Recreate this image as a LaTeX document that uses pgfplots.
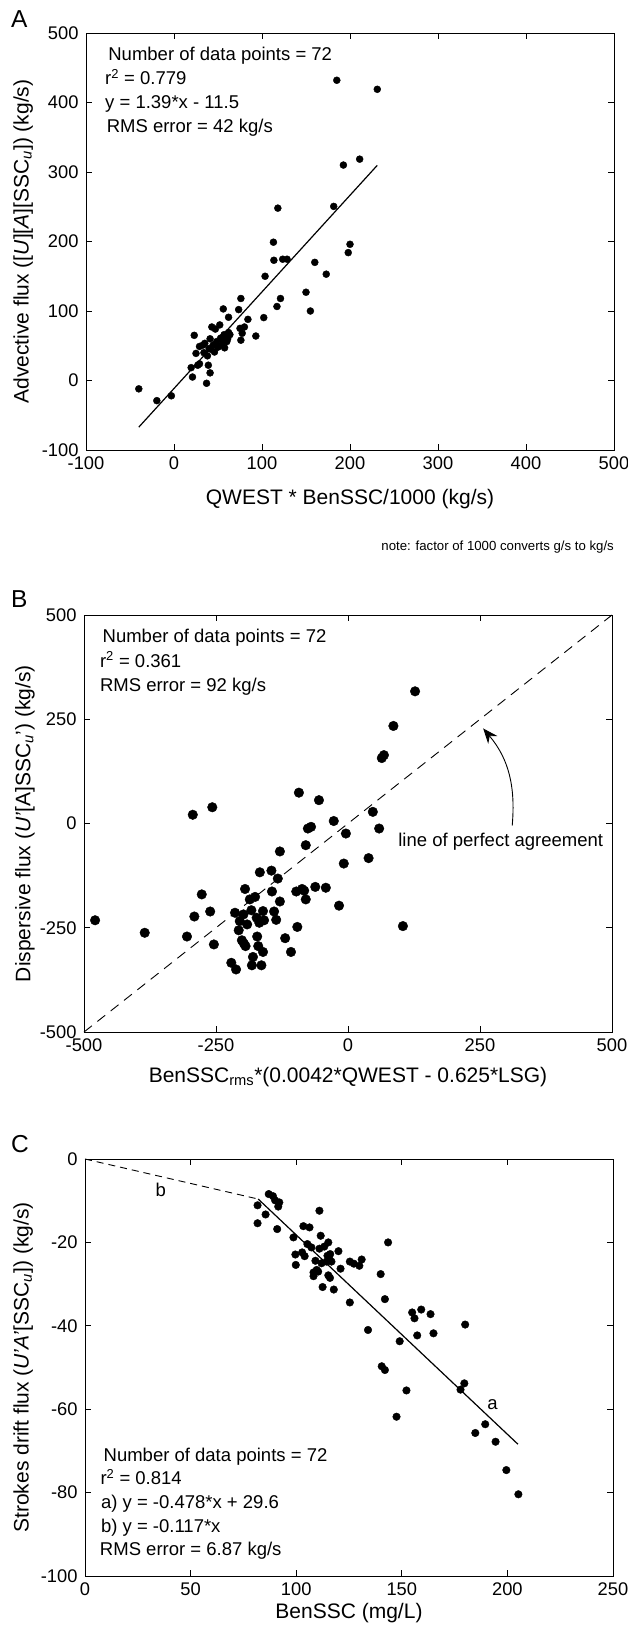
\documentclass[border=0pt]{standalone}
\usepackage{pgfplots}
\pgfplotsset{compat=1.18}
\usepackage{pgfplotstable}
\usetikzlibrary{arrows.meta}
\usepackage{fontspec}
\setmainfont{Liberation Sans}

\newcommand{\tickfont}{\fontsize{18.3pt}{21pt}\selectfont}
\newcommand{\labfont}{\fontsize{21pt}{24pt}\selectfont}
\newcommand{\annfont}{\fontsize{18.5pt}{22pt}\selectfont}
\newcommand{\letfont}{\fontsize{24.5pt}{28pt}\selectfont}
\newcommand{\notefont}{\fontsize{13.2pt}{15pt}\selectfont}

\pgfplotstableread{
x y
-40 -12
-19.5 -29
-3 -22
21 5
19.5 18.5
23 65
25 39
27 22
29 24
29 49
33 51
35 53.5
37 -4
39 22
41 11
38 35.5
40 46
43 77
41 60
44.5 51
47 74
48.5 56
46 41
50 48
52 80
53 61
54.5 51
56 103
57 66
57.5 47
60 56
62 91
62 69
63.5 66
61 60
73.5 102
76 118
75 75
76 58
77.5 68
80 77
84 88
93 64
102 90.5
103.5 150
113 199
113.5 173
117 106.5
118 248
121 118
123.5 174.5
128.5 174.5
150 127
155 100
160 170
173 153
181.5 250.5
185 432
192.5 310
198 184
200 196
211 318.5
231 419
42 45
55 58
34 40
}\dataA

\pgfplotstableread{
x y
-479 -232
-385 -262
-305 -271
-294 21
-291 -223
-277 -170
-261 -211
-257 39
-254 -290
-221 -334
-212 -350
-214 -214
-207 -256
-205 -234
-201 -280
-197 -288
-194 -294
-195 -157
-198 -218
-191 -242
-186 -182
-183 -208
-180 -320
-182 -340
-176 -176
-173 -226
-172 -271
-170 -294
-167 -117
-168 -238
-164 -340
-161 -308
-161 -210
-159 -232
-145 -113
-144 -163
-140 -211
-136 -231
-133 -132
-129 -67
-129 -187
-119 -275
-108 -308
-98 -163
-96 -248
-93 74
-87 -157
-83 -161
-80 -182
-80 -52
-76 -12
-70 -8
-62 -152
-55 56
-42 -154
-27 6
-17 -197
-8 -96
-4 -24
39 -83
47 28
59 -12
64 157
68 164
86 234
104 -246
127 317
}\dataB

\pgfplotstableread{
x y
81.7 -11.1
81.7 -15.4
85.5 -13.3
87 -8.4
89 -8.9
90 -9.9
91 -16.8
92 -10.4
91.5 -11.4
98.7 -18.8
99.6 -22.9
99.8 -25.4
102.8 -22.4
103.4 -16.1
104 -23.3
105.3 -20.4
106.3 -16.4
107.2 -21.2
108.2 -27.2
108.2 -28.1
109.1 -24.4
109.7 -26.6
110.4 -27
111 -12.4
111 -21.5
111.6 -18.4
112 -25
112.5 -30.7
113.3 -21
114.4 -24.6
114.8 -23.2
115.2 -20
115.2 -27.9
115.8 -24.1
116.1 -22.8
116.7 -24.6
116 -28.5
117.8 -31.3
120 -22.1
121 -26.3
125.4 -34.4
125.4 -24.6
127.3 -25.1
129.9 -25.6
131 -24.1
134 -41
140 -27.6
140.5 -49.7
142 -50.6
142 -33.6
143.5 -20
147.5 -61.8
149 -43.7
152.2 -55.5
154.9 -36.8
156 -38.2
157.3 -42.3
159.2 -36.1
163.6 -37.2
165 -41.8
177.8 -55.3
180 -39.7
179.6 -53.8
184.8 -65.7
189.5 -63.6
194.4 -67.8
199.5 -74.6
205.2 -80.4
}\dataC

\pgfplotsset{
  panel/.style={
    scale only axis, width=528pt, height=417pt,
    axis line style={line width=0.8pt},
    every tick/.style={line width=0.8pt, black},
    major tick length=6pt,
    tick align=inside,
    ticklabel style={font=\tickfont},
    xticklabel style={yshift=-3pt},
    yticklabel style={xshift=-4pt},
    /pgf/number format/assume math mode=true,
    /pgf/number format/1000 sep={},
    label style={font=\labfont},
    clip=false,
  },
  dots/.style={only marks, mark=*, mark options={fill=black, draw=black}},
}

\begin{document}
\begin{tikzpicture}
\useasboundingbox (0,0) rectangle (627pt,-1633pt);

\node[anchor=base west, font=\letfont, inner sep=0] at (11pt,-27pt) {A};
\node[anchor=base west, font=\letfont, inner sep=0] at (11pt,-607pt) {B};
\node[anchor=base west, font=\letfont, inner sep=0] at (11pt,-1152pt) {C};

% ---------------- Panel A
\begin{axis}[panel, at={(86pt,-33pt)}, anchor=north west,
  xmin=-100, xmax=500, ymin=-100, ymax=500,
  xtick={-100,0,...,500}, ytick={-100,0,...,500},
  xlabel={QWEST * BenSSC/1000 (kg/s)},
  xlabel style={at={(axis description cs:0.5,-0.1295)}, anchor=base},
  ylabel={Advective flux ([\textit{U}][\textit{A}][SSC\textsubscript{\textit{u}}]) (kg/s)},
  ylabel style={at={(axis description cs:-0.119,0.5)}, anchor=center},
]
\addplot[dots, mark size=3.5pt] table[x=x,y=y] {\dataA};
\addplot[black, line width=1.2pt] coordinates {(-40,-67.1) (231,309.6)};
\node[anchor=base west, font=\annfont, inner sep=0] at (rel axis cs:0.042,0.9336) {Number of data points = 72};
\node[anchor=base west, font=\annfont, inner sep=0] at (rel axis cs:0.036,0.876) {r\textsuperscript{2} = 0.779};
\node[anchor=base west, font=\annfont, inner sep=0] at (rel axis cs:0.036,0.8185) {y = 1.39*x - 11.5};
\node[anchor=base west, font=\annfont, inner sep=0] at (rel axis cs:0.039,0.761) {RMS error = 42 kg/s};
\node[anchor=base east, font=\notefont, inner sep=0] at (axis description cs:1,-0.241) {note: factor of 1000 converts g/s to kg/s};
\end{axis}

% ---------------- Panel B
\begin{axis}[panel, at={(84pt,-615pt)}, anchor=north west,
  xmin=-500, xmax=500, ymin=-500, ymax=500,
  xtick={-500,-250,0,250,500}, ytick={-500,-250,0,250,500},
  xlabel={BenSSC\textsubscript{rms}*(0.0042*QWEST - 0.625*LSG)},
  xlabel style={at={(axis description cs:0.5,-0.12)}, anchor=base},
  ylabel={Dispersive flux (\textit{U'}[A]SSC\textsubscript{\textit{u}}') (kg/s)},
  ylabel style={at={(axis description cs:-0.112,0.5)}, anchor=center},
]
\addplot[black, line width=0.9pt, dash pattern=on 10pt off 7pt] coordinates {(-500,-500) (500,500)};
\addplot[dots, mark size=4.8pt] table[x=x,y=y] {\dataB};
\node[anchor=base west, font=\annfont, inner sep=0] at (rel axis cs:0.035,0.9329) {Number of data points = 72};
\node[anchor=base west, font=\annfont, inner sep=0] at (rel axis cs:0.030,0.8753) {r\textsuperscript{2} = 0.361};
\node[anchor=base west, font=\annfont, inner sep=0] at (rel axis cs:0.030,0.8177) {RMS error = 92 kg/s};
\node[anchor=base west, font=\annfont, inner sep=0] at (rel axis cs:0.595,0.446) {line of perfect agreement};
\draw[line width=0.9pt, -{Stealth[length=15pt,width=12pt]}] (axis cs:311,-5) to[out=85,in=-50] (axis cs:256,228);
\end{axis}

% ---------------- Panel C
\begin{axis}[panel, at={(85pt,-1159pt)}, anchor=north west,
  xmin=0, xmax=250, ymin=-100, ymax=0,
  xtick={0,50,...,250}, ytick={-100,-80,...,0},
  xlabel={BenSSC (mg/L)},
  xlabel style={at={(axis description cs:0.5,-0.1007)}, anchor=base},
  ylabel={Strokes drift flux (\textit{U'A'}[SSC\textsubscript{\textit{u}}]) (kg/s)},
  ylabel style={at={(axis description cs:-0.117,0.5)}, anchor=center},
]
\addplot[black, line width=0.9pt, dash pattern=on 7pt off 5pt] coordinates {(0,0) (82,-9.6)};
\addplot[black, line width=1.2pt] coordinates {(82,-9.6) (205,-68.4)};
\addplot[dots, mark size=3.8pt] table[x=x,y=y] {\dataC};
\node[font=\annfont] at (axis cs:35.9,-7.3) {b};
\node[font=\annfont] at (axis cs:193,-58.8) {a};
\node[anchor=base west, font=\annfont, inner sep=0] at (rel axis cs:0.035,0.2758) {Number of data points = 72};
\node[anchor=base west, font=\annfont, inner sep=0] at (rel axis cs:0.029,0.219) {r\textsuperscript{2} = 0.814};
\node[anchor=base west, font=\annfont, inner sep=0] at (rel axis cs:0.030,0.1621) {a) y = -0.478*x + 29.6};
\node[anchor=base west, font=\annfont, inner sep=0] at (rel axis cs:0.030,0.1055) {b) y = -0.117*x};
\node[anchor=base west, font=\annfont, inner sep=0] at (rel axis cs:0.028,0.0484) {RMS error = 6.87 kg/s};
\end{axis}
\end{tikzpicture}
\end{document}
